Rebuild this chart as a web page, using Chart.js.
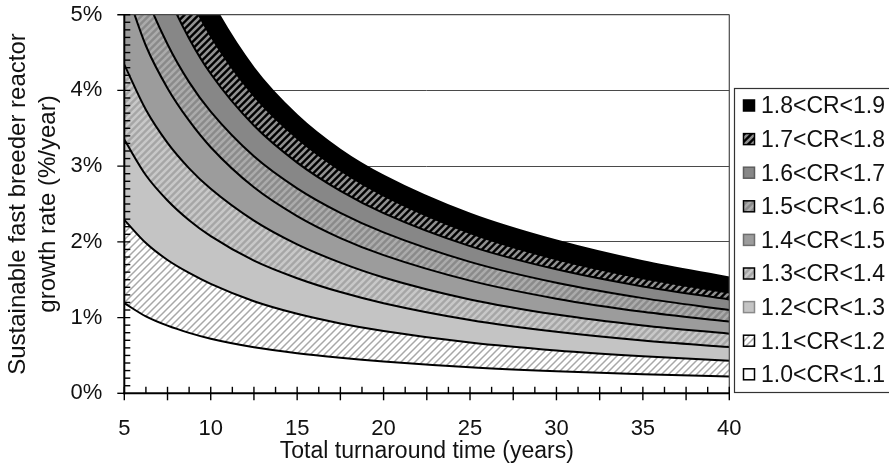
<!DOCTYPE html>
<html>
<head>
<meta charset="utf-8">
<script src="https://cdn.jsdelivr.net/npm/chart.js@4.4.0/dist/chart.umd.min.js"></script>
<style>
html,body{margin:0;padding:0;background:#ffffff;}
#wrap{width:889px;height:472px;position:relative;}
</style>
</head>
<body>
<div id="wrap"><canvas id="c" width="889" height="472"></canvas></div>
<script>
// ---- data ----
const turnaroundYears = [5, 6.25, 7.5, 8.75, 10, 12.5, 15, 17.5, 20, 25, 30, 35, 40];
const rateCR11 = [1.19, 1.016, 0.893, 0.798, 0.72, 0.608, 0.529, 0.469, 0.42, 0.344, 0.291, 0.251, 0.221];
const rateCR12 = [2.29, 1.984, 1.76, 1.589, 1.445, 1.216, 1.05, 0.923, 0.823, 0.67, 0.565, 0.489, 0.43];
const rateCR13 = [3.35, 2.88, 2.547, 2.286, 2.075, 1.752, 1.52, 1.337, 1.19, 0.968, 0.812, 0.697, 0.611];
const rateCR14 = [4.34, 3.744, 3.307, 2.971, 2.70, 2.28, 1.967, 1.726, 1.53, 1.24, 1.04, 0.896, 0.788];
const rateCR15 = [5.40, 4.59, 4.03, 3.60, 3.25, 2.72, 2.34, 2.05, 1.825, 1.488, 1.25, 1.077, 0.948];
const rateCR16 = [6.20, 5.26, 4.61, 4.11, 3.72, 3.13, 2.707, 2.383, 2.125, 1.736, 1.46, 1.257, 1.10];
const rateCR17 = [7.30, 6.08, 5.28, 4.686, 4.22, 3.536, 3.047, 2.674, 2.38, 1.944, 1.637, 1.411, 1.24];
const rateCR18 = [8.30, 6.88, 5.95, 5.257, 4.72, 3.928, 3.367, 2.943, 2.61, 2.116, 1.77, 1.52, 1.33];
const rateCR19 = [9.40, 7.73, 6.60, 5.806, 5.20, 4.296, 3.673, 3.217, 2.875, 2.372, 2.017, 1.743, 1.53];

const curveLabels = ['CR=1.1','CR=1.2','CR=1.3','CR=1.4','CR=1.5','CR=1.6','CR=1.7','CR=1.8','CR=1.9'];
const curveSeries = [rateCR11, rateCR12, rateCR13, rateCR14, rateCR15, rateCR16, rateCR17, rateCR18, rateCR19];
// legend entries, bottom band first
const bandLabels = ['1.0<CR<1.1','1.1<CR<1.2','1.2<CR<1.3','1.3<CR<1.4','1.4<CR<1.5','1.5<CR<1.6','1.6<CR<1.7','1.7<CR<1.8','1.8<CR<1.9'];
const xTickValues = [5, 10, 15, 20, 25, 30, 35, 40];
const yTickValues = [0, 1, 2, 3, 4, 5];
const xAxisTitle = 'Total turnaround time (years)';
const yAxisTitle = ['Sustainable fast breeder reactor', 'growth rate (%/year)'];

// ---- styles ----
const canvas = document.getElementById('c');
const mainCtx = canvas.getContext('2d');
function hatch(bg, fg, size, lw) {
  const t = document.createElement('canvas');
  t.width = size; t.height = size;
  const g = t.getContext('2d');
  g.fillStyle = bg; g.fillRect(0, 0, size, size);
  g.strokeStyle = fg; g.lineWidth = lw; g.lineCap = 'square';
  g.beginPath();
  g.moveTo(0, size); g.lineTo(size, 0);
  g.moveTo(-size, size); g.lineTo(size, -size);
  g.moveTo(0, 2 * size); g.lineTo(2 * size, 0);
  g.stroke();
  return mainCtx.createPattern(t, 'repeat');
}
const bandFills = [
  '#ffffff',
  hatch('#ffffff', '#a8a8a8', 7, 1.5),
  '#c4c4c4',
  hatch('#a6a6a6', '#c8c8c8', 7, 2.6),
  '#9c9c9c',
  hatch('#8a8a8a', '#ababab', 7, 2.6),
  '#878787',
  hatch('#000000', '#909090', 7, 2.6),
  '#000000'
];
const swatchBorders = ['#000','#000','#8a8a8a','#000','#6e6e6e','#000','#5e5e5e','#000','#000'];

const FONT = '"Liberation Sans", Arial, sans-serif';

const datasets = curveSeries.map((vals, i) => ({
  label: curveLabels[i],
  data: turnaroundYears.map((t, k) => ({x: t, y: vals[k]})),
  borderColor: '#000000',
  borderWidth: 2,
  pointRadius: 0,
  cubicInterpolationMode: 'monotone',
  fill: i === 0 ? 'origin' : '-1',
  backgroundColor: bandFills[i],
  clip: 0
}));

const framePlugin = {
  id: 'frame',
  afterDatasetsDraw(chart) {
    const {ctx, chartArea: a, scales: {x, y}} = chart;
    ctx.save();
    ctx.strokeStyle = '#4a4a4a'; ctx.lineWidth = 1.2;
    ctx.beginPath(); ctx.moveTo(a.right, a.top); ctx.lineTo(a.right, a.bottom); ctx.stroke();
    ctx.beginPath(); ctx.moveTo(a.left, a.top); ctx.lineTo(a.right, a.top); ctx.stroke();
    ctx.strokeStyle = '#000'; ctx.lineWidth = 2;
    ctx.beginPath(); ctx.moveTo(a.left, a.top); ctx.lineTo(a.left, a.bottom + 1); ctx.stroke();
    ctx.beginPath(); ctx.moveTo(a.left - 1, a.bottom); ctx.lineTo(a.right, a.bottom); ctx.stroke();
    ctx.lineWidth = 1.4;
    for (let v = 0; v <= 50; v++) {
      const py = y.getPixelForValue(v / 10);
      ctx.beginPath();
      if (v % 10 === 0) { ctx.moveTo(a.left - 7, py); ctx.lineTo(a.left, py); }
      if (v > 0) { ctx.moveTo(a.left, py); ctx.lineTo(a.left + 6, py); }
      ctx.stroke();
    }
    for (let k = 0; k <= 28; k++) {
      const px = x.getPixelForValue(5 + k * 1.25);
      ctx.beginPath();
      if (k % 2 === 0) { ctx.moveTo(px, a.bottom - 6.5); ctx.lineTo(px, a.bottom + 7); }
      else { ctx.moveTo(px, a.bottom - 6.5); ctx.lineTo(px, a.bottom); }
      ctx.stroke();
    }
    ctx.restore();
  },
  afterDraw(chart) {
    const {ctx, chartArea: a} = chart;
    ctx.save();
    const x0 = Math.round(a.right) + 5.5, y0 = 88.5, w = 200, h = 304;
    ctx.fillStyle = '#ffffff'; ctx.fillRect(x0, y0, w, h);
    ctx.strokeStyle = '#333'; ctx.lineWidth = 1.2; ctx.strokeRect(x0, y0, w, h);
    ctx.font = '23px ' + FONT;
    ctx.textBaseline = 'middle'; ctx.textAlign = 'left';
    const n = bandLabels.length;
    for (let r = 0; r < n; r++) {
      const bi = n - 1 - r;
      const cy = 106 + r * 33.6;
      ctx.fillStyle = bandFills[bi];
      ctx.fillRect(743.5, cy - 6, 11, 11);
      ctx.strokeStyle = swatchBorders[bi]; ctx.lineWidth = 1.5;
      ctx.strokeRect(743.5, cy - 6, 11, 11);
      ctx.fillStyle = '#111';
      ctx.fillText(bandLabels[bi], 761, cy + 1);
    }
    ctx.restore();
  }
};

new Chart(canvas, {
  type: 'line',
  data: {datasets},
  options: {
    responsive: false,
    animation: false,
    devicePixelRatio: 1,
    layout: {padding: {top: 14.7, right: 159.7, left: 0, bottom: 0}},
    plugins: {legend: {display: false}, tooltip: {enabled: false}},
    scales: {
      x: {
        type: 'linear', min: 5, max: 40,
        afterBuildTicks: s => { s.ticks = xTickValues.map(v => ({value: v})); },
        afterFit: s => { s.height = 78.7; s.paddingLeft = 0; s.paddingRight = 0; },
        grid: {display: false, drawTicks: false},
        border: {display: false},
        ticks: {padding: 22, color: '#111', font: {family: FONT, size: 22}, maxRotation: 0},
        title: {display: true, text: xAxisTitle, color: '#111', font: {family: FONT, size: 23}, padding: {top: 0, bottom: 7}}
      },
      y: {
        type: 'linear', min: 0, max: 5,
        afterBuildTicks: s => { s.ticks = yTickValues.map(v => ({value: v})); },
        afterFit: s => { s.width = 124.3; s.paddingTop = 0; s.paddingBottom = 0; },
        grid: {color: '#4a4a4a', lineWidth: 1, drawTicks: false},
        border: {display: false},
        ticks: {padding: 22, color: '#111', font: {family: FONT, size: 22}, callback: v => v + '%'},
        title: {display: true, text: yAxisTitle, color: '#111', font: {family: FONT, size: 24, lineHeight: '30px'}, padding: {top: 3, bottom: 0}}
      }
    }
  },
  plugins: [framePlugin]
});
</script>
</body>
</html>
